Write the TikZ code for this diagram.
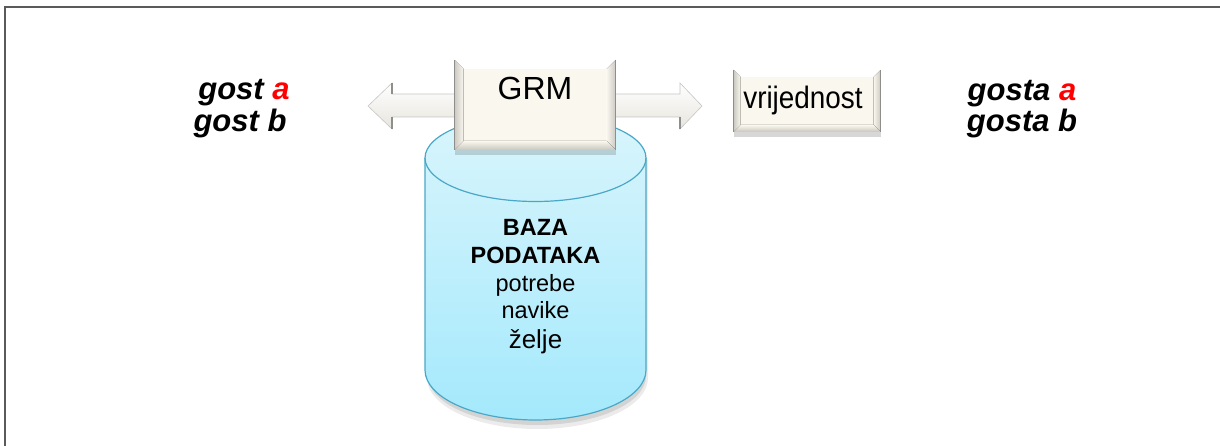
\documentclass[tikz,border=0pt]{standalone}
\usepackage{fontspec}
\setmainfont{Liberation Sans}
\usetikzlibrary{calc,shadows}
\definecolor{framecol}{HTML}{5A5A5A}
\definecolor{cream}{HTML}{F9F7EE}
\definecolor{bevside}{HTML}{DEDCD2}
\definecolor{bevbot}{HTML}{C8C6BC}
\definecolor{bevedge}{HTML}{8E8E8A}
\definecolor{cyltop}{HTML}{D9F5FC}
\definecolor{cylbot}{HTML}{A4E9FC}
\definecolor{cylline}{HTML}{4AA8C6}
\definecolor{gred}{HTML}{FF0000}
\tikzset{
  guest/.style={font=\fontsize{31}{31}\selectfont\bfseries\itshape, inner sep=0pt, anchor=base},
  boxlabel/.style={font=\fontsize{31}{31}\selectfont, inner sep=0pt, anchor=base},
  dblabel/.style={font=\fontsize{23.5}{23.5}\selectfont, inner sep=0pt, anchor=base},
  bevelbox/.style={fill=cream, outer sep=0pt, inner sep=0pt,
    drop shadow={shadow xshift=0pt, shadow yshift=-5pt, opacity=0.22, fill=black!70}},
  blockarrow/.style={top color=white, bottom color=cream!85!gray, draw=bevedge!50, line width=0.6pt},
}
\newcommand\bevelit[2]{%
  \fill[white] (#1.north west) -- (#1.north east) -- ($(#1.north east)+(-#2,#2)$) -- ($(#1.north west)+(#2,#2)$) -- cycle;
  \fill[left color=bevside!80!gray, right color=cream] (#1.north west) -- ($(#1.north west)+(#2,#2)$) -- ($(#1.south west)+(#2,-#2)$) -- (#1.south west) -- cycle;
  \fill[left color=cream, right color=bevside!80!gray] (#1.north east) -- ($(#1.north east)+(-#2,#2)$) -- ($(#1.south east)+(-#2,-#2)$) -- (#1.south east) -- cycle;
  \fill[top color=cream, bottom color=bevbot] (#1.south west) -- ($(#1.south west)+(#2,-#2)$) -- ($(#1.south east)+(-#2,-#2)$) -- (#1.south east) -- cycle;
  \draw[bevedge, line width=0.8pt] (#1.south west) -- (#1.north west);
  \draw[bevedge, line width=0.8pt] (#1.south east) -- (#1.north east);
}
\begin{document}
\begin{tikzpicture}[x=1pt,y=-1pt]
\useasboundingbox (0,0) rectangle (1220,446);
\fill[white] (-10,-10) rectangle (1240,460);
% frame
\draw[framecol, line width=2.2pt] (5,460) -- (5,7) -- (1240,7);

% database cylinder shadow
\fill[black, opacity=0.08] (427,160) -- (427,378) arc[start angle=180, end angle=0, x radius=110.5, y radius=51] -- (648,160) -- cycle;
\fill[black, opacity=0.10] (428,160) -- (428,376) arc[start angle=180, end angle=0, x radius=109, y radius=49] -- (646,160) -- cycle;
% database cylinder
\path[top color=cyltop, bottom color=cylbot, draw=cylline, line width=1.2pt]
  (425,158) -- (425,370) arc[start angle=180, end angle=0, x radius=110.5, y radius=50]
  -- (646,158) arc[start angle=0, end angle=-180, x radius=110.5, y radius=43.5] -- cycle;
\draw[cylline, line width=1.2pt] (425,158) arc[start angle=180, end angle=0, x radius=110.5, y radius=43.5];

\node[dblabel, font=\fontsize{23.5}{23.5}\selectfont\bfseries] (baza) at (535.5,236) {BAZA};
\node[dblabel, font=\fontsize{23.5}{23.5}\selectfont\bfseries] (podataka) at (535.5,263) {PODATAKA};
\node[dblabel] (potrebe) at (535.5,291) {potrebe};
\node[dblabel] (navike) at (535.5,318) {navike};
\node[dblabel, font=\fontsize{26}{26}\selectfont] (zelje) at (535.5,348) {želje};

% double block arrow
\path[blockarrow] (368,106) -- (392,83) -- (392,94) -- (680,94) -- (680,83) -- (702,106)
  -- (680,129) -- (680,117) -- (392,117) -- (392,129) -- cycle;
\draw[bevedge, line width=1.2pt] (392,83) -- (392,94);
\draw[bevedge, line width=1.2pt] (392,117) -- (392,129);
\draw[bevedge, line width=1.2pt] (680,117) -- (680,129);

% GRM box
\node[bevelbox, minimum width=161pt, minimum height=90pt] (grm) at (535,105) {};
\bevelit{grm}{9}
\node[boxlabel, font=\fontsize{32}{32}\selectfont] (grmtext) at (535,100) {GRM};

% vrijednost box
\node[bevelbox, minimum width=147pt, minimum height=62pt] (vr) at (807,101) {};
\bevelit{vr}{7}
\node[boxlabel, xscale=0.9] (vrtext) at (803,109) {vrijednost};

% guest labels
\node[guest] (ga) at (244,100) {gost \textcolor{gred}{a}};
\node[guest] (gb) at (240,132) {gost b};
\node[guest] (gsa) at (1022,101) {gosta \textcolor{gred}{a}};
\node[guest] (gsb) at (1022,132) {gosta b};
\end{tikzpicture}
\end{document}
